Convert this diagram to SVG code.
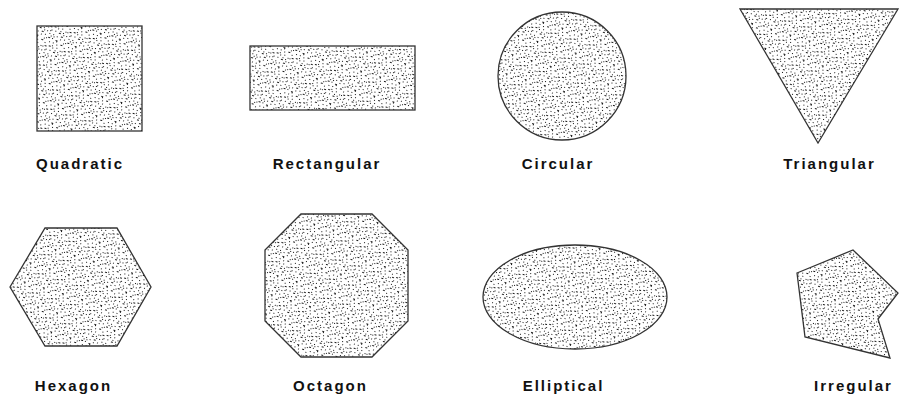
<svg xmlns="http://www.w3.org/2000/svg" width="899" height="401" viewBox="0 0 899 401">
<style>
.shape{fill:url(#speckle);stroke:#333;stroke-width:1.3}
.lbl{font-family:"Liberation Sans",Arial,sans-serif;font-weight:bold;font-size:15px;letter-spacing:2px;fill:#111;text-anchor:middle}
</style>
<defs>
<pattern id="speckle" width="20" height="20" patternUnits="userSpaceOnUse" patternTransform="rotate(17)">
<rect width="20" height="20" fill="#fff"/>
<g fill="#1a1a1a">
<rect x="1" y="1" width="1" height="1"/><rect x="5" y="2" width="2" height="1"/><rect x="9" y="0" width="1" height="1"/><rect x="13" y="3" width="1" height="1"/><rect x="17" y="1" width="2" height="1"/>
<rect x="3" y="5" width="1" height="1"/><rect x="7" y="6" width="1" height="1"/><rect x="11" y="5" width="2" height="1"/><rect x="15" y="7" width="1" height="1"/><rect x="19" y="5" width="1" height="1"/>
<rect x="0" y="9" width="2" height="1"/><rect x="4" y="10" width="1" height="1"/><rect x="8" y="9" width="1" height="1"/><rect x="12" y="11" width="1" height="1"/><rect x="16" y="10" width="2" height="1"/>
<rect x="2" y="13" width="1" height="1"/><rect x="6" y="14" width="2" height="1"/><rect x="10" y="13" width="1" height="1"/><rect x="14" y="15" width="1" height="1"/><rect x="18" y="13" width="1" height="1"/>
<rect x="1" y="17" width="1" height="1"/><rect x="5" y="18" width="1" height="1"/><rect x="9" y="17" width="2" height="1"/><rect x="13" y="19" width="1" height="1"/><rect x="17" y="17" width="1" height="1"/>
<rect x="3" y="8" width="1" height="1"/><rect x="11" y="15" width="1" height="1"/><rect x="15" y="2" width="1" height="1"/><rect x="7" y="12" width="1" height="1"/><rect x="19" y="19" width="1" height="1"/>
<rect x="14" y="11" width="1" height="1"/><rect x="6" y="3" width="1" height="1"/><rect x="2" y="19" width="1" height="1"/><rect x="17" y="14" width="1" height="1"/>
</g>
</pattern>
</defs>
<g id="quadratic"><rect class="shape" x="37" y="26" width="105" height="105"/><text class="lbl" x="80" y="169">Quadratic</text></g>
<g id="rectangular"><rect class="shape" x="250" y="46" width="165" height="64"/><text class="lbl" x="327" y="169">Rectangular</text></g>
<g id="circular"><circle class="shape" cx="562" cy="76" r="64"/><text class="lbl" x="558" y="169">Circular</text></g>
<g id="triangular"><polygon class="shape" points="740,9 898,9 818,143"/><text class="lbl" x="829.5" y="169">Triangular</text></g>
<g id="hexagon"><polygon class="shape" points="10,287 45,228 117,228 151,287 117,346 45,346"/><text class="lbl" x="73.5" y="391">Hexagon</text></g>
<g id="octagon"><polygon class="shape" points="301,214 372,214 408,250 408,321 372,357 301,357 265,321 265,250"/><text class="lbl" x="330.5" y="391">Octagon</text></g>
<g id="elliptical"><ellipse class="shape" cx="575" cy="297" rx="92" ry="52"/><text class="lbl" x="563.5" y="391">Elliptical</text></g>
<g id="irregular"><polygon class="shape" points="797,273 853,250 898,293 878,319 890,358 805,337"/><text class="lbl" x="853.5" y="391">Irregular</text></g>
<g id="connectors"></g>
</svg>
